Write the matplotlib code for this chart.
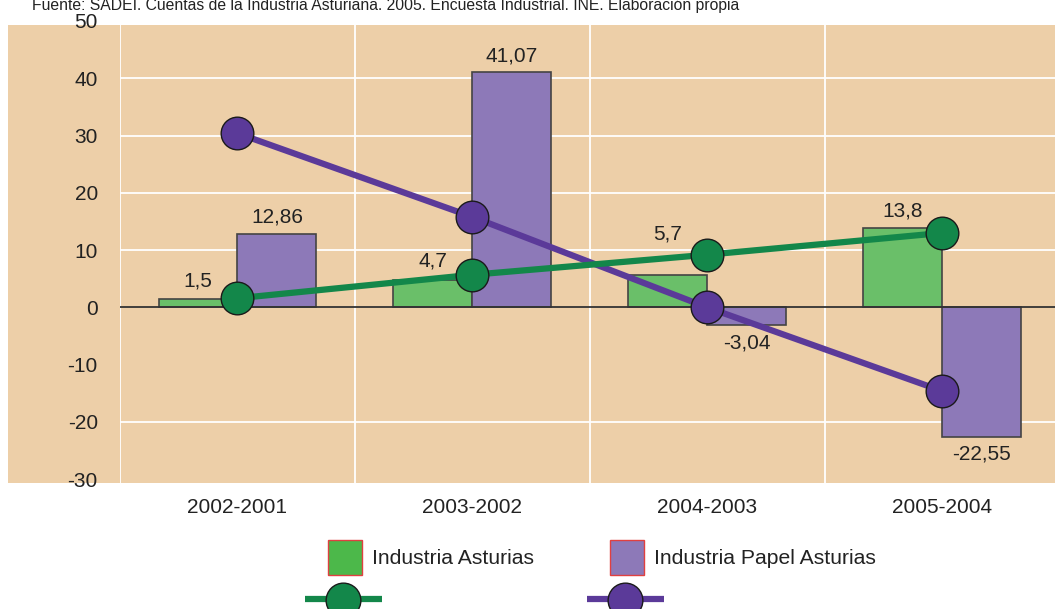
import matplotlib
matplotlib.use('Agg')
import matplotlib.pyplot as plt
from matplotlib.patches import Rectangle
from matplotlib.lines import Line2D
import numpy as np

periodos = ['2002-2001', '2003-2002', '2004-2003', '2005-2004']
industria_asturias = [1.5, 4.7, 5.7, 13.8]
industria_papel = [12.86, 41.07, -3.04, -22.55]
etiquetas_asturias = ['1,5', '4,7', '5,7', '13,8']
etiquetas_papel = ['12,86', '41,07', '-3,04', '-22,55']
linea_asturias = [1.6, 5.7, 9.2, 13.0]
linea_papel = [30.4, 15.8, 0.0, -14.6]
yticks = [50, 40, 30, 20, 10, 0, -10, -20, -30]
grid_y = [40, 30, 20, 10, -20]

FONDO = '#EDCFA8'
VERDE_BARRA = '#6ABF69'
MORADO_BARRA = '#8D79B8'
VERDE_LINEA = '#13874A'
MORADO_LINEA = '#5B3A99'
TEXTO = '#222222'

W, H = 1055, 609
plt.rcParams['font.family'] = ['Liberation Sans', 'DejaVu Sans']


def px(x, y):
    """Pasa pixeles de la imagen a coordenadas de figura"""
    return x / W, 1 - y / H


fig = plt.figure(figsize=(W / 100, H / 100), dpi=100)

# fondo beige que tambien cubre las etiquetas del eje y (eje aparte, por debajo)
x0, y0 = px(8, 483)
fondo = fig.add_axes([x0, y0, 1 - x0, 458 / H])
fondo.set_axis_off()
fondo.add_patch(Rectangle((0, 0), 1, 1, transform=fondo.transAxes,
                          facecolor=FONDO, edgecolor='none'))
fondo.set_zorder(0)

izq, abajo = px(120, 483)
ax = fig.add_axes([izq, abajo, 935 / W, 462 / H])
ax.set_facecolor('none')
ax.set_zorder(1)
for s in ax.spines.values():
    s.set_visible(False)

x = np.arange(len(periodos))
ancho = 0.336

ax.set_xlim(-0.5, 3.48)
ax.set_ylim(-30.65, 50)

for g in grid_y:
    ax.axhline(g, color='white', lw=1.3, zorder=1)
for v in [-0.5, 0.5, 1.5, 2.5]:
    ax.axvline(v, color='white', lw=1.3, zorder=1)

ax.bar(x - ancho / 2, industria_asturias, ancho, color=VERDE_BARRA,
       edgecolor='#444444', lw=1.2, zorder=2)
ax.bar(x + ancho / 2, industria_papel, ancho, color=MORADO_BARRA,
       edgecolor='#444444', lw=1.2, zorder=2)
ax.axhline(0, color='#333333', lw=1.3, zorder=3)

ax.plot(x, linea_asturias, color=VERDE_LINEA, lw=4.5, marker='o', ms=23.5,
        mfc=VERDE_LINEA, mec='#1a1a1a', mew=1.0, zorder=5)
ax.plot(x, linea_papel, color=MORADO_LINEA, lw=4.5, marker='o', ms=23.5,
        mfc=MORADO_LINEA, mec='#1a1a1a', mew=1.0, zorder=4)

extra = [0, 2, 22, 0]
for i in range(len(periodos)):
    ax.annotate(etiquetas_asturias[i], (x[i] - ancho / 2, industria_asturias[i]),
                xytext=(0, 6 + extra[i] * 0.75), textcoords='offset points',
                ha='center', va='bottom', fontsize=15, color=TEXTO, zorder=6)
    v = industria_papel[i]
    if v >= 0:
        ax.annotate(etiquetas_papel[i], (x[i] + ancho / 2, v), xytext=(0, 5),
                    textcoords='offset points', ha='center', va='bottom',
                    fontsize=15, color=TEXTO, zorder=6)
    else:
        ax.annotate(etiquetas_papel[i], (x[i] + ancho / 2, v), xytext=(0, -6),
                    textcoords='offset points', ha='center', va='top',
                    fontsize=15, color=TEXTO, zorder=6)

ax.set_yticks(yticks)
ax.set_yticklabels([str(t) for t in yticks])
ax.set_xticks(x)
ax.set_xticklabels(periodos)
ax.tick_params(axis='y', length=0, pad=16, labelsize=15, labelcolor=TEXTO)
ax.tick_params(axis='x', length=0, pad=11, labelsize=15, labelcolor=TEXTO)

# fuente de los datos, arriba del todo
fig.text(*px(32, 10), 'Fuente: SADEI. Cuentas de la Industria Asturiana. 2005. '
         'Encuesta Industrial. INE. Elaboración propia',
         fontsize=11.3, color=TEXTO, va='baseline', ha='left')

# leyenda hecha a mano
for (xl, color, nombre, col_linea) in [(328, '#4CB84A', 'Industria Asturias', VERDE_LINEA),
                                        (610, MORADO_BARRA, 'Industria Papel Asturias', MORADO_LINEA)]:
    rx, ry = px(xl, 575)
    fig.patches.append(Rectangle((rx, ry), 34 / W, 35 / H, transform=fig.transFigure,
                                 facecolor=color, edgecolor='#E04040', lw=1.0))
    fig.text(*px(xl + 44, 558), nombre, fontsize=15.2, color=TEXTO,
             va='center', ha='left')
    lx1, ly = px(xl - 23, 599)
    lx2, _ = px(xl + 54, 599)
    cx, cy = px(xl + 15, 600)
    fig.lines.append(Line2D([lx1, lx2], [ly, ly], transform=fig.transFigure,
                            color=col_linea, lw=4.5, solid_capstyle='butt'))
    fig.lines.append(Line2D([cx], [cy], transform=fig.transFigure, marker='o',
                            ms=25, mfc=col_linea, mec='#1a1a1a', mew=1.0, lw=0))

fig.savefig('out.png', dpi=100, facecolor='white')
